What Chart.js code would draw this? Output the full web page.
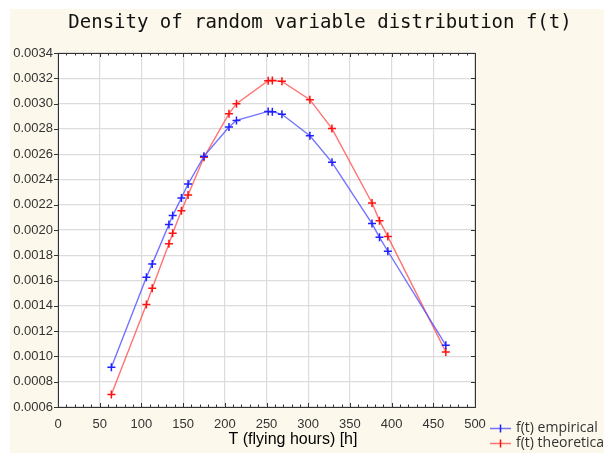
<!DOCTYPE html>
<html>
<head>
<meta charset="utf-8">
<script src="https://cdn.jsdelivr.net/npm/chart.js@4.4.1/dist/chart.umd.min.js"></script>
<style>
  body { margin: 0; background: #fff; }
  canvas { display: block; }
</style>
</head>
<body>
<canvas id="chart" width="604" height="453"></canvas>
<script>
const chartTitle = "Density of random variable distribution f(t)";
const xTitle = "T (flying hours) [h]";

// flying hours (shared by both series)
const hours = [64, 106, 113, 133, 137.5, 148, 156, 175, 205, 214, 252, 257, 268.5, 302, 328.5, 376.5, 385.5, 395.5, 465];
const empirical = [0.000915, 0.001626, 0.001732, 0.002043, 0.002114, 0.002254, 0.002364, 0.002583, 0.002815, 0.002867,
  0.002938, 0.002936, 0.002915, 0.002746, 0.002535, 0.002051, 0.001942, 0.001832, 0.001089];
const theoretical = [0.000699, 0.00141, 0.00154, 0.001892, 0.001974, 0.002153, 0.002277, 0.002575, 0.00292, 0.002999,
  0.003181, 0.003183, 0.003176, 0.003031, 0.002802, 0.002214, 0.002074, 0.001948, 0.001036];
const seriesNames = ["f(t) empirical", "f(t) theoretical"];

const xMin = 0, xMax = 500, xStep = 50;
const yMin = 0.0006, yMax = 0.0034, yStep = 0.0002;

const toPoints = (xs, ys) => xs.map((x, i) => ({ x: x, y: ys[i] }));

const CREAM = "#fdf8ec";

const backdrop = {
  id: "backdrop",
  beforeDraw(chart) {
    const { ctx, chartArea: a, width, height } = chart;
    ctx.save();
    ctx.fillStyle = "#ffffff";
    ctx.fillRect(0, 0, width, height);
    ctx.fillStyle = CREAM;
    ctx.fillRect(10, 9, width - 10, height - 9);
    ctx.fillStyle = "#ffffff";
    ctx.fillRect(a.left, a.top, a.right - a.left, a.bottom - a.top);
    ctx.restore();
  }
};

const frame = {
  id: "frame",
  afterDraw(chart) {
    const { ctx, chartArea: a, scales } = chart;
    ctx.save();
    ctx.strokeStyle = "#333";
    ctx.lineWidth = 1;
    ctx.strokeRect(Math.round(a.left) + 0.5, Math.round(a.top) + 0.5,
      Math.round(a.right - a.left), Math.round(a.bottom - a.top));

    ctx.beginPath();
    // x ticks, minor every 10, pointing in
    for (let v = xMin; v <= xMax; v += 10) {
      const px = Math.round(scales.x.getPixelForValue(v)) + 0.5;
      const len = v % xStep === 0 ? 4 : 2.5;
      ctx.moveTo(px, a.bottom); ctx.lineTo(px, a.bottom - len);
      ctx.moveTo(px, a.top); ctx.lineTo(px, a.top + len);
    }
    // y ticks
    for (let i = 0; i <= Math.round((yMax - yMin) / yStep); i++) {
      const py = Math.round(scales.y.getPixelForValue(yMin + i * yStep)) + 0.5;
      ctx.moveTo(a.left - 4, py); ctx.lineTo(a.left, py);
      ctx.moveTo(a.right, py); ctx.lineTo(a.right - 4, py);
    }
    ctx.stroke();

    // titles
    ctx.fillStyle = "#111";
    ctx.textAlign = "center";
    ctx.textBaseline = "middle";
    ctx.font = "19px 'DejaVu Sans Mono'";
    ctx.fillText(chartTitle, 320, 23);
    ctx.fillStyle = "#000";
    ctx.font = "16px 'Liberation Sans'";
    ctx.fillText(xTitle, 293, 440);

    // legend
    ctx.textAlign = "left";
    ctx.font = "14px 'Open Sans'";
    chart.data.datasets.forEach((ds, i) => {
      const y = 428.5 + i * 15;
      ctx.strokeStyle = ds.borderColor;
      ctx.lineWidth = 1.5;
      ctx.beginPath();
      ctx.moveTo(490, y); ctx.lineTo(511, y);
      ctx.stroke();
      ctx.strokeStyle = ds.pointBorderColor;
      ctx.beginPath();
      ctx.moveTo(500.5, y - 4); ctx.lineTo(500.5, y + 4);
      ctx.stroke();
      ctx.fillStyle = "#333";
      ctx.fillText(ds.label, 516, y);
    });
    ctx.restore();
  }
};

new Chart(document.getElementById("chart"), {
  type: "line",
  data: {
    datasets: [
      {
        label: seriesNames[0],
        data: toPoints(hours, empirical),
        borderColor: "rgba(80,80,255,0.8)",
        pointBorderColor: "#2020ff",
        borderWidth: 1.4,
        pointStyle: "cross",
        pointRadius: 4,
        pointBorderWidth: 1.5
      },
      {
        label: seriesNames[1],
        data: toPoints(hours, theoretical),
        borderColor: "rgba(255,80,80,0.8)",
        pointBorderColor: "#ff1010",
        borderWidth: 1.4,
        pointStyle: "cross",
        pointRadius: 4,
        pointBorderWidth: 1.5
      }
    ]
  },
  options: {
    responsive: false,
    animation: false,
    layout: { padding: { top: 53, right: 129, left: 0, bottom: 0 } },
    plugins: { legend: { display: false }, tooltip: { enabled: false } },
    scales: {
      x: {
        type: "linear",
        min: xMin, max: xMax,
        afterFit(scale) { scale.height = 46; },
        grid: { color: "#dcdcdc", lineWidth: 1.2, drawTicks: false },
        border: { display: false },
        ticks: {
          stepSize: xStep, padding: 10, color: "#333",
          font: { family: "'Liberation Sans'", size: 13 }
        }
      },
      y: {
        min: yMin, max: yMax,
        afterFit(scale) { scale.width = 58; },
        grid: { color: "#dcdcdc", lineWidth: 1.2, drawTicks: false },
        border: { display: false },
        ticks: {
          stepSize: yStep, padding: 5, color: "#333",
          font: { family: "'Liberation Sans'", size: 13 },
          callback: v => v.toFixed(4)
        }
      }
    }
  },
  plugins: [backdrop, frame]
});
</script>
</body>
</html>
